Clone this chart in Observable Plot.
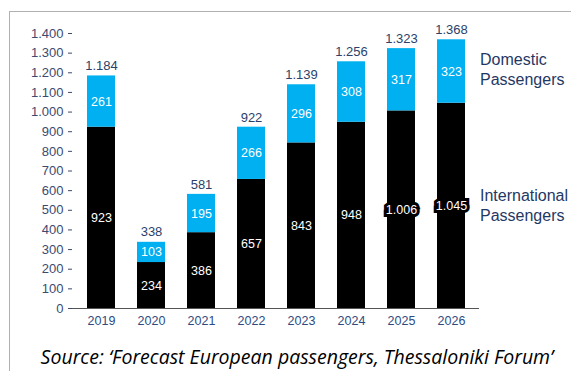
<!DOCTYPE html>
<html>
<head>
<meta charset="utf-8">
<script src="https://cdn.jsdelivr.net/npm/d3@7"></script>
<script src="https://cdn.jsdelivr.net/npm/@observablehq/plot@0.6"></script>
<style>
  html, body { margin: 0; padding: 0; background: #fff; }
  #wrap { position: relative; width: 571px; height: 371px; overflow: hidden; font-family: "Liberation Sans", Arial, sans-serif; }
  #frame { position: absolute; left: 9px; top: 11px; width: 600px; height: 400px; border: 1px solid #b0b0b0; box-sizing: border-box; }
  #chart { position: absolute; left: 0; top: 0; }
  .legend { position: absolute; left: 480px; color: #1f3864; font-size: 16px; line-height: 20px; white-space: nowrap; }
  #source { position: absolute; left: 0; width: 594px; top: 343px; text-align: center; font-family: "Open Sans", sans-serif; font-style: italic; font-size: 19.5px; color: #000; white-space: nowrap; }
</style>
</head>
<body>
<div id="wrap">
  <div id="frame"></div>
  <div id="chart"></div>
  <div class="legend" style="top:50px">Domestic<br>Passengers</div>
  <div class="legend" style="top:186px">International<br>Passengers</div>
  <div id="source">Source: ‘Forecast European passengers, Thessaloniki Forum’</div>
</div>
<script>
const years = ["2019", "2020", "2021", "2022", "2023", "2024", "2025", "2026"];
const international = [923, 234, 386, 657, 843, 948, 1006, 1045];
const domestic = [261, 103, 195, 266, 296, 308, 317, 323];
const totals = [1184, 338, 581, 922, 1139, 1256, 1323, 1368];
const seriesNames = ["International", "Domestic"];
const yTicks = [0, 100, 200, 300, 400, 500, 600, 700, 800, 900, 1000, 1100, 1200, 1300, 1400];

const loc = d3.formatLocale({decimal: ",", thousands: ".", grouping: [3], currency: ["", "€"]});
const fmt = loc.format(",d");

const rows = [];
years.forEach((y, i) => {
  rows.push({year: y, series: seriesNames[0], value: international[i]});
  rows.push({year: y, series: seriesNames[1], value: domestic[i]});
});
const totalRows = years.map((y, i) => ({year: y, total: totals[i]}));

const navy = "#2b3f6b";

const chart = Plot.plot({
  width: 571,
  height: 340,
  marginLeft: 72,
  marginRight: 92,
  marginTop: 33,
  marginBottom: 32,
  style: {fontFamily: "Liberation Sans, Arial, sans-serif", background: "transparent"},
  x: {domain: years, paddingInner: 0.44, paddingOuter: 0.28, label: null, tickSize: 0, tickPadding: 8},
  y: {domain: [0, 1400], label: null},
  color: {domain: seriesNames, range: ["#000000", "#00b0f0"]},
  marks: [
    Plot.axisY({ticks: yTicks, tickFormat: fmt, tickSize: 4, tickPadding: 5, fontSize: 13, color: "#3c4a70", label: null}),
    Plot.axisX({tickSize: 0, tickPadding: 8, fontSize: 12.5, color: "#2e4a80", label: null}),
    Plot.barY(rows, {x: "year", y: "value", fill: "series"}),
    Plot.ruleX([0], {frameAnchor: "left", stroke: "#555"}),
    Plot.ruleY([0], {stroke: "#555"}),
    Plot.text(rows, Plot.stackY({
      x: "year", y: "value", z: "series",
      text: d => fmt(d.value),
      fill: "white",
      stroke: d => d.value >= 1000 ? "black" : "none",
      strokeWidth: 6,
      strokeLinejoin: "miter",
      fontSize: 12.5
    })),
    Plot.text(totalRows, {x: "year", y: "total", text: d => fmt(d.total), dy: -10, fill: navy, fontSize: 13})
  ]
});
document.getElementById("chart").appendChild(chart);
</script>
</body>
</html>
